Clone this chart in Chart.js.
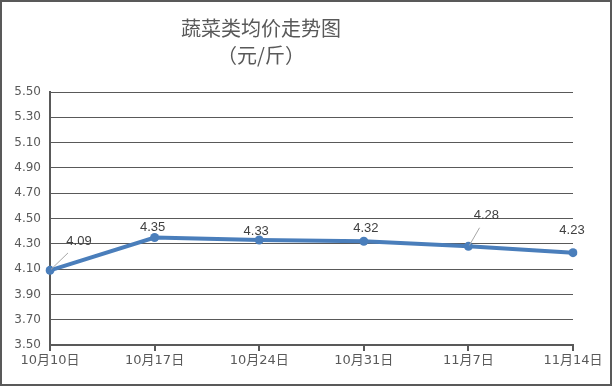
<!DOCTYPE html>
<html lang="zh">
<head>
<meta charset="UTF-8">
<title>蔬菜类均价走势图</title>
<script src="https://cdn.jsdelivr.net/npm/chart.js"></script>
<style>
    body {
        margin: 0;
        background: #fff;
    }

    #wrap {
        width: 612px;
        height: 386px;
        box-sizing: border-box;
        border: 2px solid #595959;
    }
</style>
</head>
<body>
<div id="wrap">
    <canvas id="priceChart" width="608" height="382"></canvas>
</div>
<script>
    // 数据
    const dates = ['10月10日', '10月17日', '10月24日', '10月31日', '11月7日', '11月14日'];
    const prices = [4.09, 4.35, 4.33, 4.32, 4.28, 4.23];
    const titleLines = ['蔬菜类均价走势图', '（元/斤）'];

    // 标签偏移 (dx, dy) 和引导线
    const labelOffsets = [[29, -29], [-2, -10], [-3, -9], [2, -13], [18, -31], [-1, -22]];
    const leaderLines = [true, false, false, false, true, false];

    const titlePlugin = {
        id: 'titleText',
        afterDraw(chart) {
            const ctx = chart.ctx;
            ctx.save();
            ctx.fillStyle = '#595959';
            ctx.font = '20px "Noto Sans CJK SC"';
            ctx.textAlign = 'center';
            ctx.textBaseline = 'middle';
            ctx.fillText(titleLines[0], 259, 26);
            ctx.fillText(titleLines[1], 259, 53);
            ctx.restore();
        }
    };

    const labelPlugin = {
        id: 'pointLabels',
        afterDatasetsDraw(chart) {
            const ctx = chart.ctx;
            const meta = chart.getDatasetMeta(0);
            ctx.save();
            ctx.font = '13px "Liberation Sans"';
            ctx.fillStyle = '#404040';
            ctx.textAlign = 'center';
            ctx.textBaseline = 'middle';
            meta.data.forEach((pt, i) => {
                const [dx, dy] = labelOffsets[i];
                if (leaderLines[i]) {
                    ctx.strokeStyle = '#a6a6a6';
                    ctx.lineWidth = 1;
                    ctx.beginPath();
                    ctx.moveTo(pt.x + 1, pt.y - 1);
                    ctx.lineTo(pt.x + dx * 0.62, pt.y + dy * 0.6);
                    ctx.stroke();
                }
                ctx.fillText(prices[i].toFixed(2), pt.x + dx, pt.y + dy);
            });
            ctx.restore();
        }
    };

    new Chart(document.getElementById('priceChart'), {
        type: 'line',
        data: {
            labels: dates,
            datasets: [{
                data: prices,
                borderColor: '#4a7ebb',
                backgroundColor: '#4a7ebb',
                borderWidth: 4,
                pointRadius: 4.5,
                pointBorderWidth: 0,
                pointHoverRadius: 4.5,
                tension: 0
            }]
        },
        options: {
            responsive: false,
            animation: false,
            layout: {
                padding: { top: 90, right: 37, left: 0, bottom: 0 }
            },
            plugins: {
                legend: { display: false },
                title: { display: false },
                tooltip: { enabled: false }
            },
            scales: {
                x: {
                    offset: false,
                    grid: {
                        drawOnChartArea: false,
                        drawTicks: true,
                        tickLength: 6,
                        color: '#595959',
                        lineWidth: 2
                    },
                    border: { color: '#595959', width: 2 },
                    ticks: {
                        color: '#595959',
                        font: { family: '"DejaVu Sans", "Noto Sans CJK SC"', size: 13 },
                        padding: 2,
                        maxRotation: 0
                    },
                    afterFit(scale) { scale.height = 39; }
                },
                y: {
                    min: 3.5,
                    max: 5.5,
                    ticks: {
                        stepSize: 0.2,
                        color: '#595959',
                        font: { family: '"DejaVu Sans"', size: 12 },
                        padding: 9,
                        callback: v => v.toFixed(2)
                    },
                    grid: {
                        color: '#595959',
                        lineWidth: 1,
                        drawTicks: false
                    },
                    border: { color: '#595959', width: 2 },
                    afterFit(scale) { scale.width = 48; }
                }
            }
        },
        plugins: [titlePlugin, labelPlugin]
    });
</script>
</body>
</html>
